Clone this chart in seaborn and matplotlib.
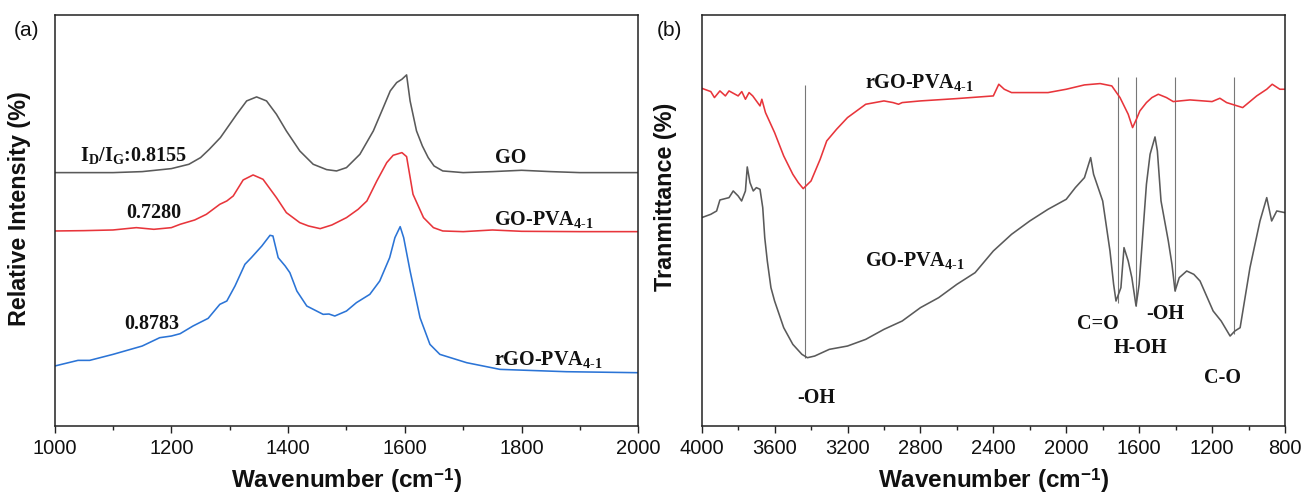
import numpy as np
import pandas as pd
import matplotlib
matplotlib.use("Agg")
import matplotlib.pyplot as plt
from matplotlib.ticker import MultipleLocator
import seaborn as sns

# ---------------- Data: panel (a) Raman ----------------
go_x = [1000, 1100, 1150, 1200, 1230, 1250, 1265, 1284, 1312, 1329, 1346, 1363, 1380,
        1397, 1420, 1443, 1466, 1483, 1500, 1523, 1546, 1563, 1575, 1586, 1595, 1603,
        1609, 1620, 1630, 1640, 1650, 1665, 1700, 1750, 1800, 1850, 1900, 2000]
go_y = [76.0, 76.0, 76.3, 77.2, 78.5, 80.5, 83.0, 86.5, 93.5, 97.5, 98.7, 97.5, 93.5,
        88.5, 82.5, 78.5, 76.9, 76.5, 77.5, 81.5, 88.5, 95.5, 100.5, 103.0, 104.0, 105.3,
        97.5, 88.5, 84.0, 80.5, 78.0, 76.5, 76.0, 76.3, 76.7, 76.3, 76.0, 76.0]

gopva_x = [1000, 1050, 1100, 1140, 1170, 1200, 1215, 1240, 1260, 1283, 1295, 1306, 1323,
           1340, 1357, 1380, 1397, 1420, 1435, 1455, 1475, 1500, 1520, 1535, 1552, 1569,
           1580, 1595, 1603, 1614, 1632, 1649, 1665, 1700, 1750, 1800, 1900, 2000]
gopva_y = [58.5, 58.6, 58.8, 59.5, 59.0, 59.5, 60.5, 61.8, 63.5, 66.5, 67.5, 69.0, 73.8,
           75.3, 74.0, 68.5, 64.0, 61.0, 60.0, 59.2, 60.3, 62.5, 65.0, 67.5, 73.5, 79.0,
           81.2, 82.0, 80.8, 69.5, 62.5, 59.5, 58.5, 58.3, 58.8, 58.4, 58.3, 58.3]

rgo_x = [1000, 1040, 1060, 1100, 1150, 1180, 1200, 1215, 1237, 1263, 1283, 1295, 1309,
         1326, 1337, 1355, 1369, 1374, 1383, 1395, 1403, 1415, 1432, 1460, 1470, 1480,
         1500, 1517, 1540, 1557, 1574, 1583, 1592, 1598, 1609, 1626, 1643, 1660, 1706,
         1763, 1877, 2000]
rgo_y = [18.0, 19.7, 19.7, 21.5, 24.0, 26.5, 27.0, 27.7, 30.0, 32.3, 36.5, 37.5, 42.0,
         48.5, 50.5, 54.0, 57.2, 57.0, 50.5, 48.0, 46.0, 40.5, 36.0, 33.5, 33.6, 33.0,
         34.5, 37.0, 39.5, 43.5, 50.5, 56.5, 59.8, 56.5, 46.5, 32.5, 24.5, 21.5, 19.0,
         17.0, 16.3, 16.0]

raman_labels = ["GO", "GO-PVA$_{4\\text{-}1}$", "rGO-PVA$_{4\\text{-}1}$"]
ratio_labels = ["I$_{D}$/I$_{G}$:0.8155", "0.7280", "0.8783"]

# ---------------- Data: panel (b) FTIR ----------------
ftir_r_x = [4000, 3950, 3930, 3900, 3870, 3850, 3800, 3780, 3760, 3740, 3720, 3700, 3680,
            3670, 3650, 3600, 3550, 3500, 3470, 3443, 3400, 3350, 3314, 3260, 3200, 3100,
            3000, 2950, 2920, 2900, 2800, 2600, 2400, 2370, 2340, 2300, 2200, 2100, 2000,
            1900, 1814, 1750, 1705, 1660, 1636, 1615, 1596, 1560, 1530, 1495, 1450, 1413,
            1321, 1200, 1157, 1120, 1032, 955, 900, 870, 828, 800]
ftir_r_y = [101.3, 100.3, 98.5, 100.5, 99.0, 100.5, 99.0, 100.3, 98.0, 100.0, 99.0, 97.5, 96.0,
            98.0, 94.0, 88.0, 81.0, 75.5, 73.0, 71.2, 73.5, 80.0, 85.5, 89.0, 92.5, 96.5,
            97.5, 97.0, 96.5, 97.0, 97.5, 98.2, 99.0, 102.5, 101.0, 100.0, 100.0, 100.0, 101.0,
            102.3, 102.7, 102.0, 98.5, 93.5, 89.5, 92.0, 94.5, 97.0, 98.5, 99.5, 98.5, 97.3,
            97.8, 97.3, 98.3, 97.0, 95.5, 99.0, 101.0, 102.5, 101.0, 101.0]

ftir_g_x = [4000, 3950, 3918, 3900, 3850, 3827, 3800, 3781, 3760, 3750, 3735, 3717, 3700,
            3680, 3665, 3654, 3640, 3620, 3600, 3550, 3500, 3450, 3420, 3380, 3300, 3200,
            3100, 3000, 2900, 2800, 2700, 2600, 2500, 2400, 2300, 2200, 2100, 2000, 1950,
            1900, 1866, 1850, 1800, 1760, 1740, 1727, 1700, 1683, 1660, 1640, 1617, 1600,
            1580, 1560, 1540, 1513, 1500, 1480, 1440, 1420, 1403, 1380, 1339, 1300, 1266,
            1194, 1150, 1101, 1075, 1046, 992, 937, 900, 873, 845, 800]
ftir_g_y = [62.5, 63.5, 64.5, 67.8, 68.5, 70.5, 69.0, 67.5, 70.5, 77.7, 73.0, 70.5, 71.5,
            71.0, 65.5, 56.5, 49.5, 41.5, 37.5, 29.5, 24.5, 21.5, 20.5, 21.0, 23.0, 24.0,
            26.0, 29.0, 31.5, 35.5, 38.5, 42.5, 46.0, 52.5, 57.5, 61.5, 65.0, 68.0, 71.5,
            74.5, 80.5, 75.5, 67.5, 52.5, 42.5, 37.5, 41.5, 53.5, 49.5, 44.5, 36.0, 42.5,
            57.5, 72.5, 81.5, 86.7, 82.5, 67.5, 55.5, 48.5, 40.5, 44.5, 46.5, 45.5, 43.5,
            34.5, 31.5, 27.0, 28.5, 29.5, 47.5, 61.5, 68.5, 61.5, 64.5, 64.0]

ftir_labels = ["rGO-PVA$_{4\\text{-}1}$", "GO-PVA$_{4\\text{-}1}$"]
band_names = ["-OH", "C=O", "H-OH", "-OH", "C-O"]
band_pos = [3435, 1717, 1617, 1406, 1079]

# ---------------- Style ----------------
sns.set_theme(style="white")
plt.rcParams["font.family"] = ["Liberation Sans", "DejaVu Sans"]
plt.rcParams["mathtext.fontset"] = "custom"
plt.rcParams["mathtext.rm"] = "Liberation Serif:bold"
plt.rcParams["mathtext.it"] = "Liberation Serif:bold"
plt.rcParams["mathtext.bf"] = "Liberation Serif:bold"
plt.rcParams["mathtext.sf"] = "Liberation Sans:bold"

GRAY = "#5a5a5a"
RED = "#e8353b"
BLUE = "#2b74d6"
serif = dict(family="Liberation Serif", weight="bold", fontsize=14.5, color="#111111")

fig = plt.figure(figsize=(13.04, 4.96), dpi=100)
ax1 = fig.add_axes([0.0419, 0.141, 0.4476, 0.829])
ax2 = fig.add_axes([0.5381, 0.141, 0.4473, 0.829])

def style_axes(ax):
    for s in ax.spines.values():
        s.set_color("#222222")
        s.set_linewidth(1.1)
    ax.tick_params(axis="x", which="major", direction="out", length=5, width=1.0,
                   labelsize=14.5, pad=4, bottom=True, colors="#222222")
    ax.tick_params(axis="x", which="minor", direction="out", length=3, width=1.0,
                   bottom=True, colors="#222222")
    ax.tick_params(axis="y", left=False, labelleft=False)
    ax.set_yticks([])
    for t in ax.get_xticklabels():
        t.set_color("#111111")

# ---- panel (a)
df_a = pd.concat([
    pd.DataFrame({"x": go_x, "y": go_y, "s": raman_labels[0]}),
    pd.DataFrame({"x": gopva_x, "y": gopva_y, "s": raman_labels[1]}),
    pd.DataFrame({"x": rgo_x, "y": rgo_y, "s": raman_labels[2]}),
])
sns.lineplot(data=df_a, x="x", y="y", hue="s", palette=[GRAY, RED, BLUE],
             sort=False, estimator=None, linewidth=1.15, legend=False, ax=ax1)
ax1.set_xlim(1000, 2000)
ax1.set_ylim(0, 123.3)
ax1.xaxis.set_major_locator(MultipleLocator(200))
ax1.xaxis.set_minor_locator(MultipleLocator(100))
style_axes(ax1)
ax1.set_xlabel("Wavenumber (cm$^{\\mathsf{-1}}$)", fontsize=17.5, fontweight="bold",
               labelpad=6, color="#111111")
ax1.set_ylabel("Relative Intensity (%)", fontsize=16.8, fontweight="bold",
               color="#111111")
ax1.yaxis.set_label_coords(-0.040, 0.528)

ax1.text(1043, 81.0, ratio_labels[0], va="center", ha="left", **serif)
ax1.text(1123, 64.0, ratio_labels[1], va="center", ha="left", **serif)
ax1.text(1120, 30.7, ratio_labels[2], va="center", ha="left", **serif)
ax1.text(1755, 80.5, raman_labels[0], va="center", ha="left", **serif)
ax1.text(1753, 61.8, raman_labels[1], va="center", ha="left", **serif)
ax1.text(1753, 20.0, raman_labels[2], va="center", ha="left", **serif)

# ---- panel (b)
df_b = pd.concat([
    pd.DataFrame({"x": ftir_r_x, "y": ftir_r_y, "s": ftir_labels[0]}),
    pd.DataFrame({"x": ftir_g_x, "y": ftir_g_y, "s": ftir_labels[1]}),
])
sns.lineplot(data=df_b, x="x", y="y", hue="s", palette=[RED, GRAY],
             sort=False, estimator=None, linewidth=1.15, legend=False, ax=ax2)
ax2.set_xlim(4000, 800)
ax2.set_ylim(0, 123.3)
ax2.xaxis.set_major_locator(MultipleLocator(400))
ax2.xaxis.set_minor_locator(MultipleLocator(200))
style_axes(ax2)
ax2.set_xlabel("Wavenumber (cm$^{\\mathsf{-1}}$)", fontsize=17.5, fontweight="bold",
               labelpad=6, color="#111111")
ax2.set_ylabel("Tranmittance (%)", fontsize=16.8, fontweight="bold",
               color="#111111")
ax2.yaxis.set_label_coords(-0.042, 0.557)

# band marker lines
line_top = [102.3, 104.7, 104.7, 104.7, 104.7]
line_bot = [20.3, 37.0, 36.0, 40.5, 27.5]
for xp, y0, y1 in zip(band_pos, line_bot, line_top):
    ax2.vlines(xp, y0, y1, color="#777777", linewidth=0.8, zorder=1)

ax2.text(3103, 103.0, ftir_labels[0], va="center", ha="left", **serif)
ax2.text(3103, 49.5, ftir_labels[1], va="center", ha="left", **serif)
ax2.text(3371, 8.5, band_names[0], va="center", ha="center", **serif)
ax2.text(1827, 30.7, band_names[1], va="center", ha="center", **serif)
ax2.text(1594, 23.5, band_names[2], va="center", ha="center", **serif)
ax2.text(1456, 33.5, band_names[3], va="center", ha="center", **serif)
ax2.text(1143, 14.5, band_names[4], va="center", ha="center", **serif)

fig.text(0.0107, 0.9395, "(a)", fontsize=15, color="#111111", va="center", ha="left")
fig.text(0.5038, 0.9395, "(b)", fontsize=15, color="#111111", va="center", ha="left")

fig.savefig("out.png", dpi=100, facecolor="white")
